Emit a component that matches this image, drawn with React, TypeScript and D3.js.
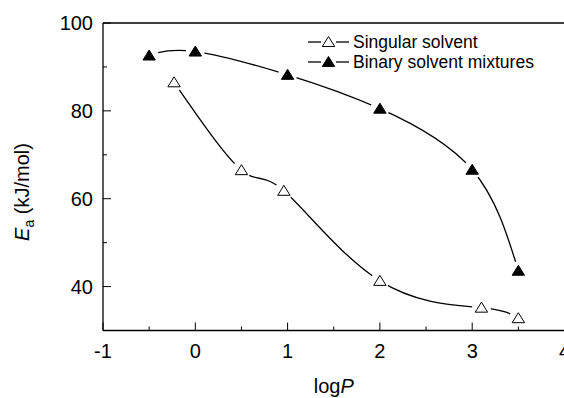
import React from 'react';
import * as d3 from 'd3';

// values
const singularLogP = [-0.23, 0.5, 0.96, 2.0, 3.1, 3.5];
const singularEa = [86.5, 66.5, 61.8, 41.3, 35.2, 32.8];
const binaryLogP = [-0.5, 0, 1, 2, 3, 3.5];
const binaryEa = [92.6, 93.5, 88.2, 80.5, 66.6, 43.6];

const xTicks = [-1, 0, 1, 2, 3, 4];
const xMinor = [-0.5, 0.5, 1.5, 2.5, 3.5];
const yTicks = [40, 60, 80, 100];
const yMinor = [50, 70, 90];

const legendLabels = ['Singular solvent', 'Binary solvent mixtures'];

const W = 564;
const H = 398;
const font = '"Liberation Sans", Arial, sans-serif';

const x = d3.scaleLinear().domain([-1, 4]).range([103, 564.5]);
const y = d3.scaleLinear().domain([30, 100]).range([330.5, 23]);

const tri = (cx: number, cy: number) =>
  `M${cx},${cy - 5.5}L${cx + 6.2},${cy + 4.5}L${cx - 6.2},${cy + 4.5}Z`;

const line = d3
  .line<[number, number]>()
  .x((d) => x(d[0]))
  .y((d) => y(d[1]))
  .curve(d3.curveNatural);

const series = [
  { name: legendLabels[0], xs: singularLogP, ys: singularEa, fill: '#fff' },
  { name: legendLabels[1], xs: binaryLogP, ys: binaryEa, fill: '#000' },
];

export default function App() {
  const [x0, x1] = x.range();
  const [y0, y1] = y.range();
  return (
    <div style={{ position: 'fixed', left: 0, top: 0 }}>
      <svg width={W} height={H} style={{ display: 'block', background: '#fff' }}>
        {/* curves */}
        {series.map((s) => (
          <path
            key={s.name}
            d={line(s.xs.map((v, i) => [v, s.ys[i]] as [number, number])) || ''}
            fill="none"
            stroke="#000"
            strokeWidth={1.3}
          />
        ))}
        {/* gaps around markers, then markers */}
        {series.map((s) =>
          s.xs.map((v, i) => (
            <circle key={`g-${s.name}-${i}`} cx={x(v)} cy={y(s.ys[i])} r={9.5} fill="#fff" />
          ))
        )}
        {series.map((s) =>
          s.xs.map((v, i) => (
            <path
              key={`m-${s.name}-${i}`}
              d={tri(x(v), y(s.ys[i]))}
              fill={s.fill}
              stroke="#000"
              strokeWidth={1}
            />
          ))
        )}

        {/* frame (right side falls outside the picture) */}
        <line x1={x0} x2={x0} y1={y0} y2={y1} stroke="#000" strokeWidth={1.3} />
        <line x1={x0} x2={x1} y1={y0} y2={y0} stroke="#000" strokeWidth={1.3} />
        <line x1={x0} x2={x1} y1={y1} y2={y1} stroke="#000" strokeWidth={1.3} />

        {/* x ticks */}
        {xTicks.map((t) => (
          <g key={`xt${t}`}>
            <line x1={x(t)} x2={x(t)} y1={y0} y2={y0 - 8} stroke="#000" strokeWidth={1} />
            <text
              x={x(t)}
              y={y0 + 27}
              textAnchor="middle"
              fontFamily={font}
              fontSize={20}
            >
              {t}
            </text>
          </g>
        ))}
        {xMinor.map((t) => (
          <line key={`xm${t}`} x1={x(t)} x2={x(t)} y1={y0} y2={y0 - 4} stroke="#000" strokeWidth={1} />
        ))}

        {/* y ticks */}
        {yTicks.map((t) => (
          <g key={`yt${t}`}>
            <line x1={x0} x2={x0 + 8} y1={y(t)} y2={y(t)} stroke="#000" strokeWidth={1} />
            <text
              x={x0 - 10}
              y={y(t)}
              dy="0.36em"
              textAnchor="end"
              fontFamily={font}
              fontSize={20}
            >
              {t}
            </text>
          </g>
        ))}
        {yMinor.map((t) => (
          <line key={`ym${t}`} x1={x0} x2={x0 + 4} y1={y(t)} y2={y(t)} stroke="#000" strokeWidth={1} />
        ))}

        {/* axis titles */}
        <text
          x={(x0 + x1) / 2}
          y={393}
          textAnchor="middle"
          fontFamily={font}
          fontSize={20}
        >
          log<tspan fontStyle="italic">P</tspan>
        </text>
        <text
          transform={`translate(29,192) rotate(-90)`}
          textAnchor="middle"
          fontFamily={font}
          fontSize={20}
        >
          <tspan fontStyle="italic">E</tspan>
          <tspan fontSize={14} dy={5}>a</tspan>
          <tspan dy={-5}> (kJ/mol)</tspan>
        </text>

        {/* legend */}
        {series.map((s, i) => {
          const cy = 42 + i * 20;
          return (
            <g key={`lg${i}`}>
              <line x1={308} x2={321} y1={cy} y2={cy} stroke="#000" strokeWidth={1.3} />
              <line x1={336} x2={349} y1={cy} y2={cy} stroke="#000" strokeWidth={1.3} />
              <path d={tri(328.5, cy)} fill={s.fill} stroke="#000" strokeWidth={1} />
              <text x={353} y={cy + 6} fontFamily={font} fontSize={17.5}>
                {s.name}
              </text>
            </g>
          );
        })}
      </svg>
    </div>
  );
}
